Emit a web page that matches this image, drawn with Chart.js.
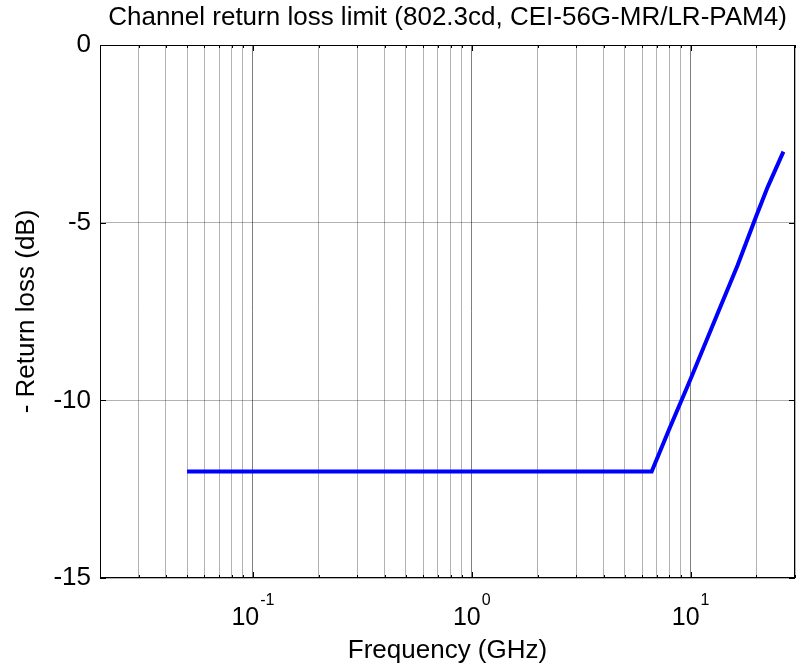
<!DOCTYPE html>
<html>
<head>
<meta charset="utf-8">
<script src="https://cdn.jsdelivr.net/npm/chart.js@4"></script>
<style>
  html, body { margin: 0; padding: 0; background: #fff; }
  #wrap { width: 804px; height: 666px; }
</style>
</head>
<body>
<div id="wrap"><canvas id="myChart" width="804" height="666"></canvas></div>
<script>
// values
const freqGHz = [0.05, 6.64, 8, 10, 13.2, 16.4, 20, 22.5, 26.56];
const returnLoss = [-12, -12, -10.8, -9.4, -7.6, -6.2, -4.8, -4.0, -3.0];

// tick positions / labels
const xGrid = [0.02, 0.03, 0.04, 0.05, 0.06, 0.07, 0.08, 0.09,
  0.1, 0.2, 0.3, 0.4, 0.5, 0.6, 0.7, 0.8, 0.9,
  1, 2, 3, 4, 5, 6, 7, 8, 9, 10, 20, 30];
const xMajor = [0.1, 1, 10];
const xMajorExp = ['-1', '0', '1'];
const yTicks = [-15, -10, -5, 0];

const FONT = "'Liberation Sans', Arial, Helvetica, sans-serif";

// MATLAB style box, inside ticks and 10^n labels
const matlabAxes = {
  id: 'matlabAxes',
  afterDraw(chart) {
    const ctx = chart.ctx;
    const a = chart.chartArea;
    const xs = chart.scales.x, ys = chart.scales.y;
    ctx.save();
    ctx.strokeStyle = '#000';
    ctx.lineWidth = 1;
    ctx.strokeRect(Math.round(a.left) + 0.5, Math.round(a.top) + 0.5,
      Math.round(a.right - a.left) - 1, Math.round(a.bottom - a.top) - 1);
    ctx.beginPath();
    xGrid.forEach(v => {
      const px = Math.round(xs.getPixelForValue(v)) + 0.5;
      const len = xMajor.includes(v) ? 6 : 3;
      ctx.moveTo(px, a.bottom); ctx.lineTo(px, a.bottom - len);
      ctx.moveTo(px, a.top); ctx.lineTo(px, a.top + len);
    });
    yTicks.forEach(v => {
      const py = Math.round(ys.getPixelForValue(v)) + 0.5;
      ctx.moveTo(a.left, py); ctx.lineTo(a.left + 6, py);
      ctx.moveTo(a.right, py); ctx.lineTo(a.right - 6, py);
    });
    ctx.stroke();

    ctx.fillStyle = '#000';
    ctx.textBaseline = 'alphabetic';
    xMajor.forEach((v, i) => {
      const px = xs.getPixelForValue(v);
      ctx.font = '25px ' + FONT;
      const wb = ctx.measureText('10').width;
      ctx.font = '16px ' + FONT;
      const we = ctx.measureText(xMajorExp[i]).width;
      const x0 = px - (wb + 1 + we) / 2;
      ctx.font = '25px ' + FONT;
      ctx.textAlign = 'left';
      ctx.fillText('10', x0, a.bottom + 47);
      ctx.font = '16px ' + FONT;
      ctx.fillText(xMajorExp[i], x0 + wb + 1, a.bottom + 27);
    });
    ctx.restore();
  }
};

const config = {
  type: 'line',
  data: {
    datasets: [{
      label: 'Channel return loss limit',
      data: freqGHz.map((f, i) => ({ x: f, y: returnLoss[i] })),
      borderColor: '#0000ff',
      backgroundColor: '#0000ff',
      borderWidth: 4,
      pointRadius: 0,
      tension: 0,
      fill: false
    }]
  },
  options: {
    responsive: false,
    animation: false,
    layout: { padding: { left: 0, right: 9, top: 0, bottom: 0 } },
    plugins: {
      legend: { display: false },
      tooltip: { enabled: false },
      title: {
        display: true,
        fullSize: false,
        text: 'Channel return loss limit (802.3cd, CEI-56G-MR/LR-PAM4)',
        color: '#000',
        font: { family: FONT, size: 26, weight: 'normal' },
        padding: { top: 2, bottom: 11.8 }
      }
    },
    scales: {
      x: {
        type: 'logarithmic',
        min: 0.02,
        max: 30,
        afterBuildTicks: s => { s.ticks = xGrid.map(v => ({ value: v, major: xMajor.includes(v) })); },
        afterFit: s => { s.height = 88; },
        ticks: { display: false, autoSkip: false },
        border: { display: false },
        grid: {
          drawTicks: false,
          color: ctx => (ctx.tick && ctx.tick.major) ? 'rgba(0,0,0,0.5)' : 'rgba(0,0,0,0.3)',
          lineWidth: 1
        },
        title: {
          display: true,
          text: 'Frequency (GHz)',
          color: '#000',
          font: { family: FONT, size: 26 },
          padding: { top: 0, bottom: 0 }
        }
      },
      y: {
        type: 'linear',
        min: -15,
        max: 0,
        afterBuildTicks: s => { s.ticks = yTicks.map(v => ({ value: v })); },
        afterFit: s => { s.width = 100; },
        ticks: {
          color: '#000',
          font: { family: FONT, size: 26 },
          padding: 9
        },
        border: { display: false },
        grid: {
          drawTicks: false,
          color: 'rgba(0,0,0,0.3)',
          lineWidth: 1
        },
        title: {
          display: true,
          text: '- Return loss (dB)',
          color: '#000',
          font: { family: FONT, size: 26 },
          padding: { top: 11, bottom: 0 }
        }
      }
    }
  },
  plugins: [matlabAxes]
};

const context = document.getElementById('myChart');
const myChart = new Chart(context, config);
</script>
</body>
</html>
